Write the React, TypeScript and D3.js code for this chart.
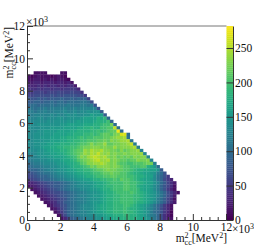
import React, { useEffect, useRef } from "react";
import * as d3 from "d3";

// 2D histogram, one string per row of bins, top row first (y bin 45 down to 0).
// Each char is a base 36 level, blank = empty bin.
const binSize = 200;
const levelStep = 8.7;
const histRows = [
  "  1111    11",
  "101211101210",
  "1122121212210",
  "22332333233231",
  "333434344343442",
  "4445455455455553",
  "55666566676667664",
  "667777787878888775",
  "8889898999a99a9a9a6",
  "99aa9aababbabbbbccb7",
  "abbabbbcbcccdcccddcd8",
  "ccbccdcddddeddedeeeee8",
  "ddcddeddeeefeefeffgfgg9",
  "ddeeeeefefefgfgffggihhi9",
  "eeeffefffggfgggghiiiikjla",
  "eeffffgfgggghghihiiijkkkma",
  "effggggggghhiiiiijjjkklmmpb",
  "ffffggghhhhiiiijjkklkkmmnntb",
  "fffgghhhhiiiijjkkkkllmlmnoovb",
  "ffggghhhiiiijjkkkllmlmnoonpquub",
  "ffgghhhiiijjkkklmlmmnnnoopqrrsc",
  "ffggghhiiijjkkllmmnnnoopoqpqrrsc",
  "ffgghhiijjkkkllmnnoqopprooppqqrtd",
  "ffgghiijjkkllmmnoppqqqpqpprpqqqrsd",
  "fffgghiijjkklmnoorqsrrsqqppoqopqqre",
  "eefgghhiijjklmnoprqsrtrqrpqppqpqqqre",
  "deefgghhiiijklmoqprstsrsqpqopopoqpqqe",
  "cdeeffgghhijjklnopqrstrrspqpoonooqppqe",
  "bcddefffghhijjklnoqqrrsrqpqonnmmnnnoppd",
  "abccdeeffghhijkklmnpoqqqqpqponnmmmnnkjhb",
  "9aabcdeefgghiijkkllmnoopqppoonnmlkkjjiig9",
  "789abccdeffghhijjkklmmnoopoonnmlkkjiihgdb8",
  "6789aabcdeefgghiijkklmmnnoonnnmmlkkjiifca85",
  "56789aabcddeffghhiijkkllmmnmonnmlkjiihfca753",
  "2345678899abcdefgghhijjklmmmmnnmmlkjiigeb9642",
  "1234567899abcdeffgghijjkllmmmnnmmkjiihfda8641",
  " 123456789abcddeffghhijkklmmmnnmmljiihfda8531",
  "  1234567789abcddefgghijkklmmmmnmlkjihgeca7531",
  "   123456789abcdeefghhijkkllmmmmllkjihgeca752",
  "    12345678abcddefgghijkkllmmmmllkjihgdb9641",
  "     1234679abcddefghhijkkllmmmmlkkjihfdb9642",
  "      124578abcdeffghijjkklllmmlkjihgeca8531",
  "       12468abcdeffghijjkklllmlkkjihfeca7531",
  "        1358abcdeefghiijkklllmllkjihgdba8530",
  "         147abcdeeffghhijjkkkllkkjihfdca7420",
  "          1369abcdeefgghiijjkklkkjihgeca7421",
];

const axisTicks = [0, 2000, 4000, 6000, 8000, 10000, 12000];
const minorTicks = d3.range(0, 12001, 500).filter((d) => d % 2000 !== 0);
const zTicks = [0, 50, 100, 150, 200, 250];
const zMax = 282;
const labelFont = "'Liberation Serif', 'Times New Roman', serif";

const App = () => {
  const svgRef = useRef<SVGSVGElement>(null);

  useEffect(() => {
    const svg = d3.select(svgRef.current);
    svg.selectAll("*").remove();

    const xScale = d3.scaleLinear().domain([0, 12000]).range([27, 226]);
    const yScale = d3.scaleLinear().domain([0, 12000]).range([220, 26]);
    const zScale = d3.scaleLinear().domain([0, zMax]).range([220, 26]);
    const colour = (v: number) => d3.interpolateViridis(Math.min(v / zMax, 1));

    // Bins
    const cells: { x: number; y: number; v: number }[] = [];
    histRows.forEach((row, r) => {
      const yIndex = histRows.length - 1 - r;
      row.split("").forEach((c, i) => {
        if (c !== " ") cells.push({ x: i * binSize, y: yIndex * binSize, v: parseInt(c, 36) * levelStep + 4 });
      });
    });

    svg.append("g")
      .selectAll("rect")
      .data(cells)
      .join("rect")
      .attr("x", (d) => xScale(d.x))
      .attr("y", (d) => yScale(d.y + binSize))
      .attr("width", xScale(binSize) - xScale(0) + 0.25)
      .attr("height", yScale(0) - yScale(binSize) + 0.25)
      .attr("fill", (d) => colour(d.v));

    // Palette
    const steps = d3.range(0, zMax, 3);
    svg.append("g")
      .selectAll("rect")
      .data(steps)
      .join("rect")
      .attr("x", 226.5)
      .attr("y", (d) => zScale(d + 3))
      .attr("width", 6.5)
      .attr("height", zScale(0) - zScale(3) + 0.3)
      .attr("fill", (d) => colour(d));

    // Frame
    svg.append("line")
      .attr("x1", 27).attr("x2", 226.5).attr("y1", 26).attr("y2", 26)
      .attr("stroke", "#777").attr("stroke-width", 1);

    const styleAxis = (g: any) => {
      g.selectAll("path").attr("stroke", "#333");
      g.selectAll("line").attr("stroke", "#333");
      g.selectAll("text")
        .attr("fill", "#111")
        .style("font-family", labelFont)
        .style("font-size", "11.5px");
    };

    const xAxis = d3.axisBottom(xScale)
      .tickValues(axisTicks)
      .tickSizeInner(-6)
      .tickSizeOuter(0)
      .tickPadding(3)
      .tickFormat((d) => `${+d / 1000}`);
    svg.append("g").attr("transform", "translate(0,220)").call(xAxis).call(styleAxis);

    const xMinor = d3.axisBottom(xScale)
      .tickValues(minorTicks)
      .tickSizeInner(-3)
      .tickSizeOuter(0)
      .tickFormat(() => "");
    svg.append("g").attr("transform", "translate(0,220)").call(xMinor).call(styleAxis);

    const yAxis = d3.axisLeft(yScale)
      .tickValues(axisTicks)
      .tickSizeInner(-6)
      .tickSizeOuter(0)
      .tickPadding(2)
      .tickFormat((d) => `${+d / 1000}`);
    svg.append("g").attr("transform", "translate(27,0)").call(yAxis).call(styleAxis);

    const yMinor = d3.axisLeft(yScale)
      .tickValues(minorTicks)
      .tickSizeInner(-3)
      .tickSizeOuter(0)
      .tickFormat(() => "");
    svg.append("g").attr("transform", "translate(27,0)").call(yMinor).call(styleAxis);

    const zAxis = d3.axisRight(zScale)
      .tickValues(zTicks)
      .tickSizeInner(-6.5)
      .tickSizeOuter(0)
      .tickPadding(2)
      .tickFormat((d) => `${d}`);
    svg.append("g").attr("transform", "translate(233,0)").call(zAxis).call(styleAxis);

    // Titles and exponents
    const addLabel = (x: number, y: number, anchor: string, rotate = 0) => {
      const t = svg.append("text")
        .attr("transform", `translate(${x},${y}) rotate(${rotate})`)
        .attr("text-anchor", anchor)
        .attr("fill", "#111")
        .style("font-family", labelFont)
        .style("font-size", "11.5px");
      t.append("tspan").text("m");
      t.append("tspan").attr("dy", -4).style("font-size", "8px").text("2");
      t.append("tspan").attr("dy", 6.5).attr("dx", -4).style("font-size", "8px").text("cc");
      t.append("tspan").attr("dy", -2.5).text("[MeV");
      t.append("tspan").attr("dy", -4).style("font-size", "8px").text("2");
      t.append("tspan").attr("dy", 4).text("]");
    };
    addLabel(227, 242, "end");
    addLabel(13, 27, "end", -90);

    const addExponent = (x: number, y: number) => {
      const t = svg.append("text")
        .attr("x", x).attr("y", y)
        .attr("fill", "#111")
        .style("font-family", labelFont)
        .style("font-size", "11.5px");
      t.append("tspan").text("×10");
      t.append("tspan").attr("dy", -4).style("font-size", "8px").text("3");
    };
    addExponent(26, 26);
    addExponent(232, 233);
  }, []);

  return <svg ref={svgRef} width={254} height={247} style={{ position: "absolute", left: 0, top: 0 }}></svg>;
};

export default App;
